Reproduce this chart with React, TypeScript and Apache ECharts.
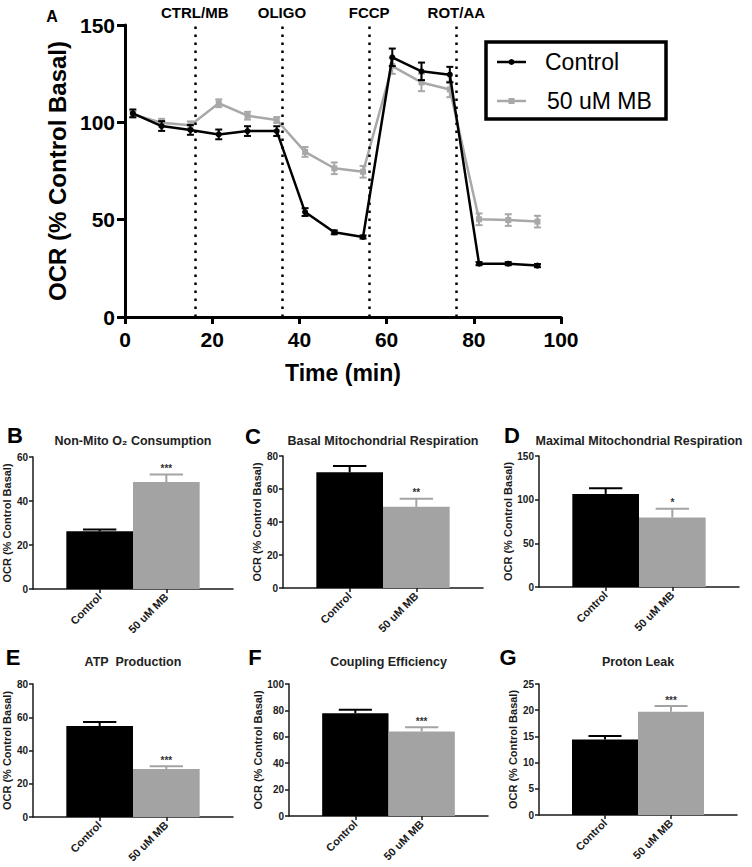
import React, { useEffect, useRef } from 'react';
import * as echarts from 'echarts';

// ---------- Data: panel A (time course) ----------
const times = [1.8, 8.4, 15.0, 21.5, 28.1, 34.8, 41.3, 48.0, 54.6, 61.3, 68.0, 74.5, 81.2, 87.9, 94.6];
const controlOCR = [104.6, 98.1, 96.1, 93.8, 95.5, 95.5, 53.9, 43.5, 41.1, 133.4, 126.2, 124.5, 27.4, 27.4, 26.4];
const controlSEM = [2, 2.5, 2.5, 2.5, 2.5, 2.5, 2, 1, 0.8, 4.5, 4.5, 4, 0.8, 0.8, 0.8];
const mbOCR = [104.1, 99.8, 98.5, 109.8, 103.4, 101.2, 84.8, 76.4, 74.6, 128.9, 120.5, 116.9, 50.2, 49.8, 49.0];
const mbSEM = [1.5, 2, 2, 2, 2, 1.5, 2.5, 3, 3, 4, 4.5, 4, 3, 3, 3];
const injectionTimes = [16, 36, 56, 76];
const injectionNames = ['CTRL/MB', 'OLIGO', 'FCCP', 'ROT/AA'];
const seriesNames = ['Control', '50 uM MB'];

// ---------- Data: panels B–G ----------
const groups = ['Control', '50 uM MB'];
const panelLetters = ['B', 'C', 'D', 'E', 'F', 'G'];
const panelTitles = [
  'Non-Mito O₂ Consumption',
  'Basal Mitochondrial Respiration',
  'Maximal Mitochondrial Respiration',
  'ATP  Production',
  'Coupling Efficiency',
  'Proton Leak',
];
const panelMeans = [
  [26.2, 48.6],
  [70.1, 49.2],
  [106.6, 79.5],
  [54.7, 28.8],
  [77.8, 64.0],
  [14.4, 19.7],
];
const panelSEM = [
  [0.8, 3.5],
  [3.8, 4.9],
  [6.5, 10.0],
  [2.4, 1.8],
  [2.6, 3.3],
  [0.7, 1.1],
];
const panelSig = ['***', '**', '*', '***', '***', '***'];
const panelMax = [60, 80, 150, 80, 100, 25];
const panelInterval = [20, 20, 50, 20, 20, 5];

// ---------- Layout ----------
const FONT = 'Liberation Sans, Arial, Helvetica, sans-serif';
const INK = '#1a1a1a';
const GRAY_BAR = '#a3a3a3';
const GRAY_LINE = '#a8a8a8';
const panelGrids = [
  { left: 33, top: 457, width: 200, height: 132 },
  { left: 283, top: 456, width: 200, height: 132 },
  { left: 539, top: 456, width: 200, height: 131 },
  { left: 33, top: 684, width: 200, height: 133 },
  { left: 289, top: 684, width: 199, height: 132 },
  { left: 539, top: 684, width: 198, height: 131 },
];
const panelNameGap = [17, 18, 22, 17, 22, 20];

function buildOption() {
  const grids: any[] = [{ left: 125, top: 25, width: 436, height: 292 }];
  const xAxes: any[] = [
    {
      gridIndex: 0,
      type: 'value',
      min: 0,
      max: 100,
      interval: 20,
      name: 'Time (min)',
      nameLocation: 'middle',
      nameGap: 44,
      nameTextStyle: { fontSize: 23, fontWeight: 'bold', color: '#000', fontFamily: FONT },
      axisLine: { show: true, onZero: false, lineStyle: { color: '#000', width: 3 } },
      axisTick: { show: true, length: 7, lineStyle: { color: '#000', width: 3 } },
      axisLabel: { fontSize: 21, fontWeight: 'bold', color: '#000', margin: 12, fontFamily: FONT },
      splitLine: { show: false },
    },
  ];
  const yAxes: any[] = [
    {
      gridIndex: 0,
      type: 'value',
      min: 0,
      max: 150,
      interval: 50,
      name: 'OCR (% Control Basal)',
      nameLocation: 'middle',
      nameGap: 52,
      nameTextStyle: { fontSize: 24, fontWeight: 'bold', color: '#000', fontFamily: FONT },
      axisLine: { show: true, onZero: false, lineStyle: { color: '#000', width: 3 } },
      axisTick: { show: true, length: 8, lineStyle: { color: '#000', width: 3 } },
      axisLabel: { fontSize: 21, fontWeight: 'bold', color: '#000', margin: 10, fontFamily: FONT },
      splitLine: { show: false },
    },
  ];

  const topErr = (name: string, ys: number[], es: number[], color: string, z: number) => ({
    name: name + ' SEM',
    type: 'custom',
    xAxisIndex: 0,
    yAxisIndex: 0,
    z,
    silent: true,
    data: times.map((t, i) => [t, ys[i], es[i]]),
    encode: { x: 0, y: 1 },
    renderItem: (params: any, api: any) => {
      const x = api.value(0);
      const y = api.value(1);
      const e = api.value(2);
      const top = api.coord([x, y + e]);
      const bot = api.coord([x, y - e]);
      const st = { stroke: color, lineWidth: 2 };
      const cap = 3.5;
      return {
        type: 'group',
        children: [
          { type: 'line', shape: { x1: top[0], y1: top[1], x2: bot[0], y2: bot[1] }, style: st },
          { type: 'line', shape: { x1: top[0] - cap, y1: top[1], x2: top[0] + cap, y2: top[1] }, style: st },
          { type: 'line', shape: { x1: bot[0] - cap, y1: bot[1], x2: bot[0] + cap, y2: bot[1] }, style: st },
        ],
      };
    },
  });

  const series: any[] = [
    {
      name: seriesNames[1],
      type: 'line',
      xAxisIndex: 0,
      yAxisIndex: 0,
      z: 3,
      data: times.map((t, i) => [t, mbOCR[i]]),
      symbol: 'rect',
      symbolSize: 6,
      lineStyle: { color: GRAY_LINE, width: 2.5 },
      itemStyle: { color: GRAY_LINE },
    },
    topErr(seriesNames[1], mbOCR, mbSEM, GRAY_LINE, 3),
    {
      name: seriesNames[0],
      type: 'line',
      xAxisIndex: 0,
      yAxisIndex: 0,
      z: 5,
      data: times.map((t, i) => [t, controlOCR[i]]),
      symbol: 'circle',
      symbolSize: 6,
      lineStyle: { color: '#000', width: 2.5 },
      itemStyle: { color: '#000' },
      markLine: {
        silent: true,
        symbol: ['none', 'none'],
        lineStyle: { color: '#000', width: 2.5, type: [2.5, 5.5], cap: 'butt' },
        label: {
          show: true,
          position: 'end',
          formatter: '{b}',
          fontSize: 15,
          fontWeight: 'bold',
          color: '#000',
          fontFamily: FONT,
          distance: 5,
        },
        data: injectionTimes.map((t, i) => ({ xAxis: t, name: injectionNames[i] })),
      },
    },
    topErr(seriesNames[0], controlOCR, controlSEM, '#000', 5),
  ];

  const graphics: any[] = [
    {
      type: 'text',
      style: { text: 'A', x: 52, y: 16, textAlign: 'center', textVerticalAlign: 'middle', fontSize: 16, fontWeight: 'bold', fontFamily: FONT, fill: '#000' },
    },
    // legend box
    { type: 'rect', shape: { x: 486, y: 42, width: 180, height: 77 }, style: { fill: '#fff', stroke: '#000', lineWidth: 3.5 }, z: 50 },
    { type: 'line', shape: { x1: 497, y1: 62, x2: 526, y2: 62 }, style: { stroke: '#000', lineWidth: 2.5 }, z: 51 },
    { type: 'circle', shape: { cx: 511.5, cy: 62, r: 3 }, style: { fill: '#000' }, z: 51 },
    { type: 'text', style: { text: seriesNames[0], x: 545, y: 62, textVerticalAlign: 'middle', fontSize: 23, fontFamily: FONT, fill: '#000' }, z: 51 },
    { type: 'line', shape: { x1: 497, y1: 101, x2: 526, y2: 101 }, style: { stroke: GRAY_LINE, lineWidth: 2.5 }, z: 51 },
    { type: 'rect', shape: { x: 508.5, y: 98, width: 6, height: 6 }, style: { fill: GRAY_LINE }, z: 51 },
    { type: 'text', style: { text: seriesNames[1], x: 547, y: 101, textVerticalAlign: 'middle', fontSize: 23, fontFamily: FONT, fill: '#000' }, z: 51 },
  ];

  panelTitles.forEach((title, k) => {
    const g = panelGrids[k];
    const gi = k + 1;
    grids.push(g);
    xAxes.push({
      gridIndex: gi,
      type: 'value',
      min: 0,
      max: 3,
      interval: 1,
      axisLine: { show: true, onZero: false, lineStyle: { color: INK, width: 1.5 } },
      axisTick: { show: true, customValues: [1, 2], length: 4, lineStyle: { color: INK, width: 1.5 } },
      axisLabel: {
        show: true,
        customValues: [1, 2],
        formatter: (v: number) => groups[Math.round(v) - 1] ?? '',
        rotate: 45,
        fontSize: 11,
        fontWeight: 'bold',
        color: INK,
        margin: 6,
        fontFamily: FONT,
      },
      splitLine: { show: false },
    });
    yAxes.push({
      gridIndex: gi,
      type: 'value',
      min: 0,
      max: panelMax[k],
      interval: panelInterval[k],
      name: 'OCR (% Control Basal)',
      nameLocation: 'middle',
      nameGap: panelNameGap[k],
      nameTextStyle: { fontSize: 11, fontWeight: 'bold', color: INK, fontFamily: FONT },
      axisLine: { show: true, onZero: false, lineStyle: { color: INK, width: 1.5 } },
      axisTick: { show: true, length: 4, lineStyle: { color: INK, width: 1.5 } },
      axisLabel: { fontSize: 10, fontWeight: 'bold', color: INK, margin: 5, fontFamily: FONT },
      splitLine: { show: false },
    });
    const barW = (g.width / 3);
    series.push({
      name: title,
      type: 'bar',
      xAxisIndex: gi,
      yAxisIndex: gi,
      barWidth: barW,
      z: 3,
      data: groups.map((grp, j) => ({
        value: [j + 1, panelMeans[k][j]],
        itemStyle: { color: j === 0 ? '#000' : GRAY_BAR },
      })),
    });
    series.push({
      name: title + ' SEM',
      type: 'custom',
      xAxisIndex: gi,
      yAxisIndex: gi,
      z: 2,
      silent: true,
      data: groups.map((grp, j) => [j + 1, panelMeans[k][j], panelSEM[k][j], j]),
      encode: { x: 0, y: 1 },
      renderItem: (params: any, api: any) => {
        const x = api.value(0);
        const y = api.value(1);
        const e = api.value(2);
        const j = api.value(3);
        const base = api.coord([x, y]);
        const top = api.coord([x, y + e]);
        const color = j === 0 ? '#000' : GRAY_BAR;
        const cap = barW / 4;
        const st = { stroke: color, lineWidth: 2 };
        const children: any[] = [
          { type: 'line', shape: { x1: base[0], y1: base[1], x2: top[0], y2: top[1] }, style: st },
          { type: 'line', shape: { x1: top[0] - cap, y1: top[1], x2: top[0] + cap, y2: top[1] }, style: st },
        ];
        if (j === 1) {
          children.push({
            type: 'text',
            style: {
              text: panelSig[k],
              x: top[0],
              y: top[1] - 1,
              textAlign: 'center',
              textVerticalAlign: 'bottom',
              fontSize: 10,
              fontWeight: 'bold',
              fontFamily: FONT,
              fill: '#333',
            },
          });
        }
        return { type: 'group', children };
      },
    });
    graphics.push({
      type: 'text',
      style: {
        text: title,
        x: g.left + g.width / 2,
        y: k < 3 ? 441 : 662,
        textAlign: 'center',
        textVerticalAlign: 'middle',
        fontSize: 12.5,
        fontWeight: 'bold',
        fontFamily: FONT,
        fill: '#222',
      },
    });
  });

  const letterPos = [
    [15, 435],
    [253, 436],
    [512, 435],
    [13, 657],
    [255, 657],
    [508, 657],
  ];
  panelLetters.forEach((L, k) => {
    graphics.push({
      type: 'text',
      style: {
        text: L,
        x: letterPos[k][0],
        y: letterPos[k][1],
        textAlign: 'center',
        textVerticalAlign: 'middle',
        fontSize: 22,
        fontWeight: 'bold',
        fontFamily: FONT,
        fill: '#000',
      },
    });
  });

  return {
    animation: false,
    backgroundColor: '#fff',
    textStyle: { fontFamily: FONT },
    grid: grids,
    xAxis: xAxes,
    yAxis: yAxes,
    series,
    graphic: graphics,
  };
}

export default function App() {
  const ref = useRef<HTMLDivElement>(null);
  useEffect(() => {
    if (!ref.current) return;
    const chart = echarts.init(ref.current, undefined, { renderer: 'svg' });
    chart.setOption(buildOption() as any);
    return () => chart.dispose();
  }, []);
  return (
    <div
      ref={ref}
      style={{ position: 'absolute', left: 0, top: 0, width: 752, height: 867, background: '#fff' }}
    />
  );
}
